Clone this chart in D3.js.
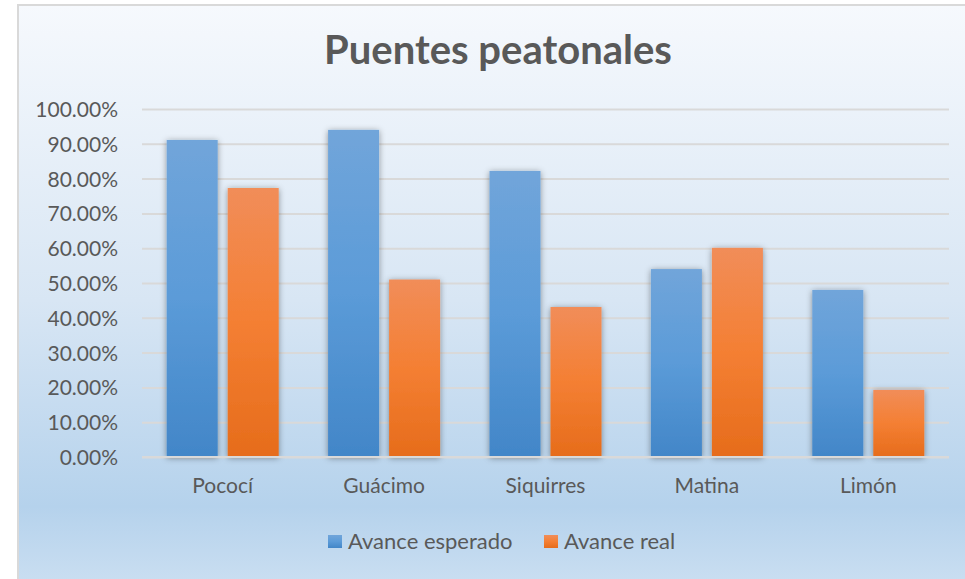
<!DOCTYPE html>
<html>
<head>
<meta charset="utf-8">
<script src="https://cdn.jsdelivr.net/npm/d3@7"></script>
<style>
  body { margin: 0; background: #fff; }
  svg text { font-family: Lato, "Open Sans", sans-serif; fill: #595959; }
</style>
</head>
<body>
<svg class="chart" width="965" height="579"></svg>
<script>
// data
var categories = ["Pococí", "Guácimo", "Siquirres", "Matina", "Limón"];
var seriesNames = ["Avance esperado", "Avance real"];
var esperado = [0.911, 0.940, 0.822, 0.540, 0.480];
var real = [0.773, 0.510, 0.431, 0.601, 0.193];
var yTicks = [0, 0.1, 0.2, 0.3, 0.4, 0.5, 0.6, 0.7, 0.8, 0.9, 1.0];

var svg = d3.select(".chart"),
    margin = {top: 109, right: 16, bottom: 122, left: 142},
    width = +svg.attr("width") - margin.left - margin.right,
    height = +svg.attr("height") - margin.top - margin.bottom;

var defs = svg.append("defs");

// background gradient
var bg = defs.append("linearGradient").attr("id", "bg").attr("x1", 0).attr("y1", 0).attr("x2", 0).attr("y2", 1);
bg.append("stop").attr("offset", "0%").attr("stop-color", "#f6f9fd");
bg.append("stop").attr("offset", "50%").attr("stop-color", "#d8e6f4");
bg.append("stop").attr("offset", "85%").attr("stop-color", "#b5d2ec");
bg.append("stop").attr("offset", "100%").attr("stop-color", "#cde0f2");

// bar gradients
var gb = defs.append("linearGradient").attr("id", "gblue").attr("x1", 0).attr("y1", 0).attr("x2", 0).attr("y2", 1);
gb.append("stop").attr("offset", "0%").attr("stop-color", "#71a5da");
gb.append("stop").attr("offset", "50%").attr("stop-color", "#5b9bd8");
gb.append("stop").attr("offset", "100%").attr("stop-color", "#4286c8");
var go = defs.append("linearGradient").attr("id", "gorange").attr("x1", 0).attr("y1", 0).attr("x2", 0).attr("y2", 1);
go.append("stop").attr("offset", "0%").attr("stop-color", "#f18d59");
go.append("stop").attr("offset", "50%").attr("stop-color", "#f47f33");
go.append("stop").attr("offset", "100%").attr("stop-color", "#e66c1b");

var shadow = defs.append("filter").attr("id", "shadow").attr("x", "-30%").attr("y", "-10%").attr("width", "160%").attr("height", "120%");
shadow.append("feDropShadow").attr("dx", 0).attr("dy", 1).attr("stdDeviation", 3)
    .attr("flood-color", "#000").attr("flood-opacity", 0.4);

// chart area with border
svg.append("rect")
    .attr("x", 18).attr("y", 5).attr("width", 960).attr("height", 590)
    .attr("fill", "url(#bg)")
    .attr("stroke", "#d9d9d9").attr("stroke-width", 2);

var g = svg.append("g").attr("transform", "translate(" + margin.left + "," + margin.top + ")");

var x0 = d3.scaleBand().domain(categories).range([0, width]).paddingInner(0.306).paddingOuter(0.153);
var x1 = d3.scaleBand().domain(seriesNames).range([0, x0.bandwidth()]).paddingInner(0.164);
var y = d3.scaleLinear().domain([0, 1]).range([height, 0]);

// gridlines
g.append("g")
    .attr("class", "grid")
    .call(d3.axisLeft(y).tickValues(yTicks).tickSize(-width).tickFormat(""))
    .call(function(s) {
      s.select(".domain").remove();
      s.selectAll(".tick line").attr("stroke", "#d9d9d9").attr("stroke-width", 2);
    });

// y labels
g.append("g")
    .attr("class", "y axis")
    .call(d3.axisLeft(y).tickValues(yTicks).tickSize(0).tickPadding(24).tickFormat(d3.format(".2%")))
    .call(function(s) {
      s.select(".domain").remove();
      s.selectAll("text").style("font-size", "21px").attr("dy", "0.36em");
    });

// bars
var rows = categories.map(function(c, i) {
  return {cat: c, values: [{key: seriesNames[0], value: esperado[i]}, {key: seriesNames[1], value: real[i]}]};
});

g.selectAll(".group")
    .data(rows)
  .enter().append("g")
    .attr("class", "group")
    .attr("transform", function(d) { return "translate(" + x0(d.cat) + ",0)"; })
  .selectAll("rect")
    .data(function(d) { return d.values; })
  .enter().append("rect")
    .attr("x", function(d) { return x1(d.key); })
    .attr("y", function(d) { return y(d.value); })
    .attr("width", x1.bandwidth())
    .attr("height", function(d) { return height - y(d.value); })
    .attr("fill", function(d) { return d.key === seriesNames[0] ? "url(#gblue)" : "url(#gorange)"; })
    .attr("filter", "url(#shadow)");

// x axis line
g.append("line")
    .attr("x1", 0).attr("x2", width)
    .attr("y1", height).attr("y2", height)
    .attr("stroke", "#d9d9d9").attr("stroke-width", 2);

// x labels
g.append("g")
    .attr("class", "x axis")
    .attr("transform", "translate(0," + height + ")")
    .call(d3.axisBottom(x0).tickSize(0).tickPadding(21))
    .call(function(s) {
      s.select(".domain").remove();
      s.selectAll("text").style("font-size", "21px");
    });

// title
svg.append("text")
    .attr("x", 498).attr("y", 64)
    .attr("text-anchor", "middle")
    .style("font-size", "40px").style("font-weight", "bold")
    .text("Puentes peatonales");

// legend
var legend = svg.append("g").attr("class", "legend");
var legendX = [328, 544];
var legendColors = ["url(#gblue)", "url(#gorange)"];
seriesNames.forEach(function(name, i) {
  legend.append("rect")
      .attr("x", legendX[i]).attr("y", 535).attr("width", 14).attr("height", 13)
      .attr("fill", legendColors[i]);
  legend.append("text")
      .attr("x", legendX[i] + 20).attr("y", 549)
      .style("font-size", "22px")
      .text(name);
});
</script>
</body>
</html>
